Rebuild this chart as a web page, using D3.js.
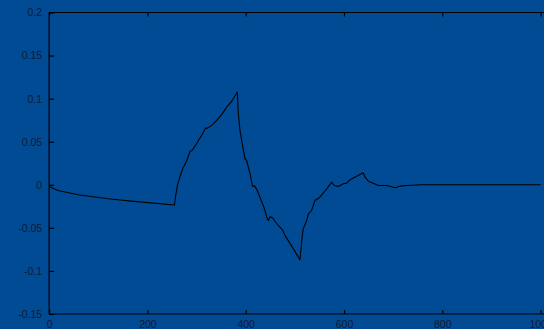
<!DOCTYPE html>
<html><head><meta charset="utf-8">
<script src="https://cdn.jsdelivr.net/npm/d3@7"></script>
<style>html,body{margin:0;padding:0;background:#014b95;}svg{display:block;}</style>
</head><body>
<script>
const xValues = [0,18,59,120,167,255,257.6,261,266,271.8,280,286.7,291,300,310,318.6,322.6,330.8,341,351,361,371.5,383,385,388.4,391.8,398.6,402,408.8,414,417.5,422,429,437,444,446,449.5,455,459.6,466.4,475,480,486.7,497,510.5,514,517,524,527.4,534,541,544.5,551,564.8,575,580,588.5,598.6,605.5,612,622,639,643,649.5,659.6,670,687,704,714,727.5,760,1000];
const yValues = [-0.002,-0.0066,-0.0116,-0.0163,-0.019,-0.0235,-0.0124,-0.001,0.009,0.0186,0.028,0.0387,0.040,0.0477,0.0573,0.066,0.0658,0.069,0.0748,0.0814,0.090,0.0969,0.1077,0.0825,0.063,0.0515,0.030,0.028,0.0128,-0.002,-0.001,-0.0047,-0.0144,-0.026,-0.0395,-0.0415,-0.037,-0.0384,-0.0423,-0.0473,-0.0523,-0.059,-0.0648,-0.0744,-0.0872,-0.065,-0.0512,-0.0415,-0.0337,-0.030,-0.018,-0.017,-0.0144,-0.0047,0.003,-0.0008,-0.002,0.0012,0.0019,0.0058,0.0088,0.014,0.0088,0.0042,0.0019,-0.0008,-0.0008,-0.0035,-0.0016,-0.0008,0,0];
const xTicks = [0,200,400,600,800,1000];
const yTicks = [-0.15,-0.1,-0.05,0,0.05,0.1,0.15,0.2];
const yTickLabels = ["-0.15","-0.1","-0.05","0","0.05","0.1","0.15","0.2"];

const W = 544, H = 329;
const svg = d3.select("body").append("svg").attr("width", W).attr("height", H);
svg.append("rect").attr("width", W).attr("height", H).attr("fill", "#014b95");

const x = d3.scaleLinear().domain([0, 1000]).range([49.1, 540.6]);
const y = d3.scaleLinear().domain([-0.15, 0.2]).range([314, 12.5]);

const data = xValues.map((v, i) => [v, yValues[i]]);

const fontFam = "'Liberation Sans', Arial, sans-serif";
const textCol = "#0d1a33";

const gBottom = svg.append("g").attr("transform", `translate(0,${y(-0.15)})`)
  .call(d3.axisBottom(x).tickValues(xTicks).tickSize(-4).tickPadding(7).tickFormat(d3.format("d")));
const gTop = svg.append("g").attr("transform", `translate(0,${y(0.2)})`)
  .call(d3.axisTop(x).tickValues(xTicks).tickSize(-4).tickFormat(""));
const gLeft = svg.append("g").attr("transform", `translate(${x(0)},0)`)
  .call(d3.axisLeft(y).tickValues(yTicks).tickSize(-5).tickPadding(7).tickFormat((d, i) => yTickLabels[i]));

[gBottom, gTop, gLeft].forEach(g => {
  g.select(".domain").attr("stroke", "#000").attr("stroke-width", 1.2);
  g.selectAll(".tick line").attr("stroke", "#000").attr("stroke-width", 1.2);
  g.selectAll("text").attr("fill", textCol).attr("font-family", fontFam).attr("font-size", "10.5px");
});
gBottom.select(".domain").attr("d", `M${x(0)},0H${W}`);
gTop.select(".domain").attr("d", `M${x(0)},0H${W}`);
gLeft.select(".domain").attr("d", `M0,${y(-0.15)}V${y(0.2)}`);

svg.append("path").datum(data)
  .attr("fill", "none").attr("stroke", "#000").attr("stroke-width", 1.1)
  .attr("stroke-linejoin", "round")
  .attr("d", d3.line().x(d => x(d[0])).y(d => y(d[1])));
</script>
</body></html>
